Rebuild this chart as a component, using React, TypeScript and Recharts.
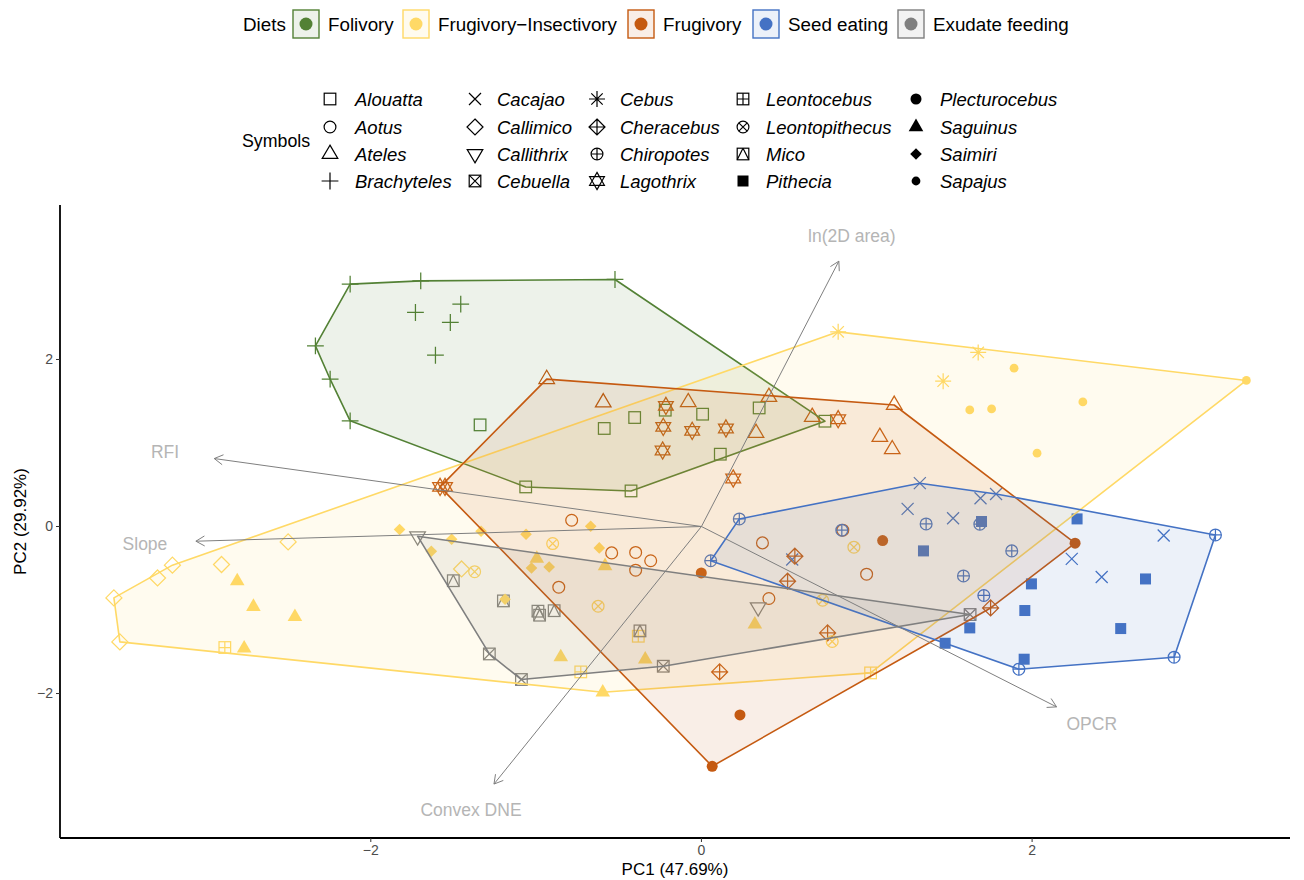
import React from 'react';
import { ScatterChart, Scatter, XAxis, YAxis } from 'recharts';

type Pt = [number, number];

// ---------- categories ----------
const DIETS = ['Folivory', 'Frugivory\u2212Insectivory', 'Frugivory', 'Seed eating', 'Exudate feeding'];
const DIET_COLORS = ['#538135', '#FFD966', '#C55A11', '#4472C4', '#7F7F7F'];

// ---------- PC scores per genus (PC1, PC2) ----------
const alouatta: Pt[] = [[-1.339, 1.217], [-1.063, 0.474], [-0.426, 0.426], [-0.588, 1.174], [-0.404, 1.305], [-0.219, 1.393], [0.007, 1.345], [0.349, 1.42], [0.114, 0.866], [0.747, 1.261]];
const aotus: Pt[] = [[-0.785, 0.075], [-0.543, -0.316], [-0.398, -0.311], [-0.307, -0.41], [-0.398, -0.523], [-0.863, -0.727], [0.369, -0.196], [0.408, -0.862], [0.999, -0.571], [0.855, -0.044]];
const ateles: Pt[] = [[-0.936, 1.765], [-0.594, 1.485], [-0.08, 1.487], [0.408, 1.55], [0.33, 1.119], [0.67, 1.311], [1.166, 1.455], [1.079, 1.071], [1.154, 0.924]];
const brachyteles: Pt[] = [[-2.125, 2.902], [-1.698, 2.941], [-0.523, 2.958], [-2.335, 2.163], [-2.246, 1.764], [-2.125, 1.265], [-1.73, 2.563], [-1.456, 2.662], [-1.519, 2.443], [-1.609, 2.051]];
const cacajao: Pt[] = [[1.321, 0.519], [1.247, 0.211], [1.522, 0.099], [1.688, 0.339], [1.782, 0.39], [2.796, -0.108], [2.24, -0.388], [2.421, -0.604], [0.549, -0.395]];
const callimico: Pt[] = [[-2.5, -0.184], [-2.903, -0.455], [-3.2, -0.463], [-3.29, -0.616], [-3.554, -0.855], [-3.518, -1.382], [-1.451, -0.508]];
const callithrix: Pt[] = [[-1.717, -0.116], [0.343, -0.966]];
const cebuella: Pt[] = [[-1.283, -1.526], [-1.089, -1.832], [-0.231, -1.673], [1.625, -1.054]];
const cebus: Pt[] = [[0.827, 2.331], [1.674, 2.084], [1.462, 1.74]];
const cheracebus: Pt[] = [[0.565, -0.356], [0.521, -0.655], [0.763, -1.274], [0.11, -1.741], [1.749, -0.975]];
const chiropotes: Pt[] = [[0.229, 0.091], [0.056, -0.41], [0.849, -0.044], [1.359, 0.031], [1.684, 0.028], [1.877, -0.292], [1.585, -0.592], [1.708, -0.826], [1.92, -1.709], [2.859, -1.565], [3.109, -0.101]];
const lagothrix: Pt[] = [[-0.215, 1.444], [-0.231, 1.193], [-0.056, 1.145], [0.148, 1.174], [-0.235, 0.91], [0.192, 0.575], [0.827, 1.285], [-1.581, 0.474], [-1.551, 0.474]];
const leontocebus: Pt[] = [[-2.883, -1.449], [-0.73, -1.741], [-0.382, -1.314], [1.023, -1.753]];
const leontopithecus: Pt[] = [[-0.9, -0.204], [-1.372, -0.541], [-0.625, -0.954], [0.733, -0.883], [0.791, -1.377], [0.922, -0.248]];
const mico: Pt[] = [[-1.501, -0.649], [-1.198, -0.891], [-0.989, -1.014], [-0.979, -1.062], [-0.891, -1.008], [-0.372, -1.25]];
const pithecia: Pt[] = [[1.694, 0.06], [1.343, -0.292], [2.272, 0.091], [1.996, -0.687], [1.956, -1.006], [1.623, -1.214], [1.474, -1.398], [1.952, -1.589], [2.536, -1.222], [2.686, -0.628]];
const plecturocebus: Pt[] = [[2.26, -0.2], [1.096, -0.168], [-0.001, -0.556], [0.233, -2.256], [0.065, -2.871]];
const saguinus: Pt[] = [[-2.808, -0.653], [-2.71, -0.961], [-2.459, -1.081], [-2.766, -1.459], [-0.996, -0.384], [-0.583, -0.473], [-0.851, -1.563], [-0.34, -1.591], [-0.597, -1.985], [0.323, -1.172]];
const saimiri: Pt[] = [[-1.826, -0.035], [-1.511, -0.152], [-1.634, -0.296], [-1.333, -0.056], [-1.061, -0.092], [-0.67, 0.004], [-0.618, -0.256], [-1.028, -0.496], [-0.921, -0.484], [-1.188, -0.871]];
const sapajus: Pt[] = [[1.891, 1.896], [3.296, 1.749], [1.623, 1.396], [1.755, 1.408], [2.307, 1.492], [2.03, 0.878]];

// genus name, diet index, symbol, scores
const GENERA: { name: string; diet: number; shape: string; pts: Pt[] }[] = [
  { name: 'Alouatta', diet: 0, shape: 'sq', pts: alouatta },
  { name: 'Aotus', diet: 2, shape: 'ci', pts: aotus },
  { name: 'Ateles', diet: 2, shape: 'tri', pts: ateles },
  { name: 'Brachyteles', diet: 0, shape: 'plus', pts: brachyteles },
  { name: 'Cacajao', diet: 3, shape: 'x', pts: cacajao },
  { name: 'Callimico', diet: 1, shape: 'dia', pts: callimico },
  { name: 'Callithrix', diet: 4, shape: 'itri', pts: callithrix },
  { name: 'Cebuella', diet: 4, shape: 'sqx', pts: cebuella },
  { name: 'Cebus', diet: 1, shape: 'ast', pts: cebus },
  { name: 'Cheracebus', diet: 2, shape: 'diaplus', pts: cheracebus },
  { name: 'Chiropotes', diet: 3, shape: 'ciplus', pts: chiropotes },
  { name: 'Lagothrix', diet: 2, shape: 'hex', pts: lagothrix },
  { name: 'Leontocebus', diet: 1, shape: 'sqplus', pts: leontocebus },
  { name: 'Leontopithecus', diet: 1, shape: 'cix', pts: leontopithecus },
  { name: 'Mico', diet: 4, shape: 'sqtri', pts: mico },
  { name: 'Pithecia', diet: 3, shape: 'fsq', pts: pithecia },
  { name: 'Plecturocebus', diet: 2, shape: 'fci', pts: plecturocebus },
  { name: 'Saguinus', diet: 1, shape: 'ftri', pts: saguinus },
  { name: 'Saimiri', diet: 1, shape: 'fdia', pts: saimiri },
  { name: 'Sapajus', diet: 1, shape: 'dot', pts: sapajus },
];

// ---------- loadings (arrow ends) and label positions ----------
const LOAD_NAMES = ['RFI', 'Slope', 'ln(2D area)', 'Convex DNE', 'OPCR'];
const LOAD_ENDS: Pt[] = [[-2.947, 0.814], [-3.058, -0.176], [0.831, 3.177], [-1.255, -3.084], [2.148, -2.16]];
const LOAD_LABELS: Pt[] = [[-3.245, 0.893], [-3.366, -0.204], [0.91, 3.477], [-1.394, -3.395], [2.361, -2.365]];

const X_TICKS = [-2, 0, 2];
const Y_TICKS = [-2, 0, 2];

// ---------- helpers ----------
const FONT = '"Liberation Sans", Arial, Helvetica, sans-serif';

function convexHull(points: Pt[]): Pt[] {
  const p = [...points].sort((a, b) => a[0] - b[0] || a[1] - b[1]);
  const cross = (o: Pt, a: Pt, b: Pt) => (a[0] - o[0]) * (b[1] - o[1]) - (a[1] - o[1]) * (b[0] - o[0]);
  const lower: Pt[] = [];
  for (const q of p) {
    while (lower.length >= 2 && cross(lower[lower.length - 2], lower[lower.length - 1], q) <= 0) lower.pop();
    lower.push(q);
  }
  const upper: Pt[] = [];
  for (let i = p.length - 1; i >= 0; i--) {
    const q = p[i];
    while (upper.length >= 2 && cross(upper[upper.length - 2], upper[upper.length - 1], q) <= 0) upper.pop();
    upper.push(q);
  }
  upper.pop();
  lower.pop();
  return lower.concat(upper);
}

function Sym({ shape, cx, cy, color, sw = 1.25 }: { shape: string; cx: number; cy: number; color: string; sw?: number }) {
  const o = { fill: 'none', stroke: color, strokeWidth: sw };
  const sq = (h: number) => <rect x={cx - h} y={cy - h} width={2 * h} height={2 * h} {...o} />;
  switch (shape) {
    case 'sq':
      return sq(5.8);
    case 'ci':
      return <circle cx={cx} cy={cy} r={5.9} {...o} />;
    case 'tri':
      return <path d={`M${cx},${cy - 8.9}L${cx + 7.8},${cy + 4.4}L${cx - 7.8},${cy + 4.4}Z`} {...o} />;
    case 'plus':
      return <path d={`M${cx - 8.4},${cy}H${cx + 8.4}M${cx},${cy - 8.4}V${cy + 8.4}`} {...o} />;
    case 'x':
      return <path d={`M${cx - 6},${cy - 6}L${cx + 6},${cy + 6}M${cx - 6},${cy + 6}L${cx + 6},${cy - 6}`} {...o} />;
    case 'dia':
      return <path d={`M${cx},${cy - 8}L${cx + 8},${cy}L${cx},${cy + 8}L${cx - 8},${cy}Z`} {...o} />;
    case 'itri':
      return <path d={`M${cx},${cy + 8.9}L${cx + 7.8},${cy - 4.4}L${cx - 7.8},${cy - 4.4}Z`} {...o} />;
    case 'sqx':
      return (
        <g>
          {sq(5.8)}
          <path d={`M${cx - 5.8},${cy - 5.8}L${cx + 5.8},${cy + 5.8}M${cx - 5.8},${cy + 5.8}L${cx + 5.8},${cy - 5.8}`} {...o} />
        </g>
      );
    case 'ast':
      return (
        <path
          d={`M${cx - 8},${cy}H${cx + 8}M${cx},${cy - 8}V${cy + 8}M${cx - 5.7},${cy - 5.7}L${cx + 5.7},${cy + 5.7}M${cx - 5.7},${cy + 5.7}L${cx + 5.7},${cy - 5.7}`}
          {...o}
        />
      );
    case 'diaplus':
      return (
        <path
          d={`M${cx},${cy - 8}L${cx + 8},${cy}L${cx},${cy + 8}L${cx - 8},${cy}ZM${cx - 8},${cy}H${cx + 8}M${cx},${cy - 8}V${cy + 8}`}
          {...o}
        />
      );
    case 'ciplus':
      return (
        <g>
          <circle cx={cx} cy={cy} r={5.9} {...o} />
          <path d={`M${cx - 5.9},${cy}H${cx + 5.9}M${cx},${cy - 5.9}V${cy + 5.9}`} {...o} />
        </g>
      );
    case 'hex':
      return (
        <path
          d={`M${cx},${cy - 8.6}L${cx + 7.4},${cy + 4.3}L${cx - 7.4},${cy + 4.3}ZM${cx},${cy + 8.6}L${cx + 7.4},${cy - 4.3}L${cx - 7.4},${cy - 4.3}Z`}
          {...o}
        />
      );
    case 'sqplus':
      return (
        <g>
          {sq(5.8)}
          <path d={`M${cx - 5.8},${cy}H${cx + 5.8}M${cx},${cy - 5.8}V${cy + 5.8}`} {...o} />
        </g>
      );
    case 'cix':
      return (
        <g>
          <circle cx={cx} cy={cy} r={5.9} {...o} />
          <path d={`M${cx - 4.2},${cy - 4.2}L${cx + 4.2},${cy + 4.2}M${cx - 4.2},${cy + 4.2}L${cx + 4.2},${cy - 4.2}`} {...o} />
        </g>
      );
    case 'sqtri':
      return (
        <g>
          {sq(5.8)}
          <path d={`M${cx},${cy - 5.8}L${cx + 5.8},${cy + 5.8}M${cx},${cy - 5.8}L${cx - 5.8},${cy + 5.8}`} {...o} />
        </g>
      );
    case 'fsq':
      return <rect x={cx - 5.5} y={cy - 5.5} width={11} height={11} fill={color} />;
    case 'fci':
      return <circle cx={cx} cy={cy} r={5.5} fill={color} />;
    case 'ftri':
      return <path d={`M${cx},${cy - 8.4}L${cx + 7.3},${cy + 4.2}L${cx - 7.3},${cy + 4.2}Z`} fill={color} />;
    case 'fdia':
      return <path d={`M${cx},${cy - 5.8}L${cx + 5.8},${cy}L${cx},${cy + 5.8}L${cx - 5.8},${cy}Z`} fill={color} />;
    case 'dot':
      return <circle cx={cx} cy={cy} r={4.4} fill={color} />;
    default:
      return <g />;
  }
}

const emptyShape = () => <g />;

const hullLine = (color: string) => (props: any) => {
  const pts: { x: number; y: number }[] = props.points || [];
  if (!pts.length) return <g />;
  const d = pts.map((p, i) => `${i ? 'L' : 'M'}${p.x},${p.y}`).join('') + 'Z';
  return <path d={d} fill={color} fillOpacity={0.1} stroke={color} strokeWidth={1.6} strokeLinejoin="round" />;
};

const arrowLine = (props: any) => {
  const pts: { x: number; y: number }[] = props.points || [];
  if (pts.length < 2) return <g />;
  const [a, b] = pts;
  const ang = Math.atan2(b.y - a.y, b.x - a.x);
  const L = 10;
  const w = Math.PI / 6;
  const p1 = `${b.x - L * Math.cos(ang - w)},${b.y - L * Math.sin(ang - w)}`;
  const p2 = `${b.x - L * Math.cos(ang + w)},${b.y - L * Math.sin(ang + w)}`;
  return (
    <g>
      <line x1={a.x} y1={a.y} x2={b.x} y2={b.y} stroke="#7f7f7f" strokeWidth={1} />
      <polyline points={`${p1} ${b.x},${b.y} ${p2}`} fill="none" stroke="#7f7f7f" strokeWidth={1} />
    </g>
  );
};

const fmt = (v: number) => (v < 0 ? '\u2212' + Math.abs(v) : String(v));

// ---------- legend layout ----------
const DIET_BOX_X = [293, 403, 628, 753, 898];
const DIET_TEXT_X = [328, 438, 663, 788, 933];
const SYM_COL_X = [330, 475, 597, 743, 916];
const SYM_TEXT_X = [355, 497, 620, 766, 940];
const SYM_ROW_Y = [99, 127, 154, 181];
const LEG_FS = 18.8;

function Legends() {
  return (
    <svg width={1304} height={200} style={{ position: 'absolute', left: 0, top: 0, pointerEvents: 'none', fontFamily: FONT }}>
      <text x={243} y={31} fontSize={LEG_FS} fill="#000">Diets</text>
      {DIETS.map((d, i) => (
        <g key={d}>
          <rect x={DIET_BOX_X[i]} y={10} width={26} height={28} fill={DIET_COLORS[i]} fillOpacity={0.1} stroke={DIET_COLORS[i]} strokeWidth={1.4} />
          <circle cx={DIET_BOX_X[i] + 13} cy={24} r={6.5} fill={DIET_COLORS[i]} />
          <text x={DIET_TEXT_X[i]} y={31} fontSize={LEG_FS} fill="#000">{d}</text>
        </g>
      ))}
      <text x={242} y={147} fontSize={LEG_FS - 1} fill="#000">Symbols</text>
      {GENERA.map((g, i) => {
        const col = Math.floor(i / 4);
        const row = i % 4;
        return (
          <g key={g.name}>
            <Sym shape={g.shape} cx={SYM_COL_X[col]} cy={SYM_ROW_Y[row]} color="#000" sw={1.2} />
            <text x={SYM_TEXT_X[col]} y={SYM_ROW_Y[row] + 7} fontSize={LEG_FS - 0.3} fontStyle="italic" fill="#000">{g.name}</text>
          </g>
        );
      })}
    </svg>
  );
}

export default function App() {
  const hulls = DIETS.map((_, di) => convexHull(GENERA.filter((g) => g.diet === di).flatMap((g) => g.pts)));
  return (
    <div style={{ position: 'relative', width: 1304, height: 880, fontFamily: FONT, background: '#fff' }}>
      <style>{'body{margin:0;overflow:hidden;}'}</style>
      <ScatterChart width={1304} height={880} margin={{ top: 205, right: 14, bottom: 0, left: 0 }}>
        <XAxis
          type="number"
          dataKey="x"
          domain={[-3.88, 3.56]}
          allowDataOverflow
          ticks={X_TICKS}
          tickFormatter={fmt}
          height={42}
          tickSize={4}
          tickMargin={3}
          axisLine={{ stroke: '#000', strokeWidth: 1.8 }}
          tickLine={{ stroke: '#333', strokeWidth: 1 }}
          tick={{ fill: '#4d4d4d', fontSize: 14 }}
          label={{ value: 'PC1 (47.69%)', position: 'insideBottom', offset: 5, fill: '#000', fontSize: 17 }}
        />
        <YAxis
          type="number"
          dataKey="y"
          domain={[-3.73, 3.85]}
          allowDataOverflow
          ticks={Y_TICKS}
          tickFormatter={fmt}
          width={60}
          tickSize={4}
          tickMargin={3}
          axisLine={{ stroke: '#000', strokeWidth: 1.8 }}
          tickLine={{ stroke: '#333', strokeWidth: 1 }}
          tick={{ fill: '#4d4d4d', fontSize: 14 }}
          label={{ value: 'PC2 (29.92%)', angle: -90, position: 'insideLeft', offset: 20, fill: '#000', fontSize: 17, style: { textAnchor: 'middle' } }}
        />
        {GENERA.map((g) => (
          <Scatter
            key={g.name}
            name={g.name}
            data={g.pts.map(([x, y]) => ({ x, y }))}
            isAnimationActive={false}
            shape={(p: any) => <Sym shape={g.shape} cx={p.cx} cy={p.cy} color={DIET_COLORS[g.diet]} />}
          />
        ))}
        {hulls.map((h, di) => (
          <Scatter
            key={'hull-' + di}
            name={'hull-' + DIETS[di]}
            data={h.map(([x, y]) => ({ x, y }))}
            isAnimationActive={false}
            line={hullLine(DIET_COLORS[di])}
            lineType="joint"
            shape={emptyShape}
          />
        ))}
        {LOAD_ENDS.map(([x, y], i) => (
          <Scatter
            key={'arrow-' + i}
            name={'arrow-' + LOAD_NAMES[i]}
            data={[{ x: 0, y: 0 }, { x, y }]}
            isAnimationActive={false}
            line={arrowLine}
            lineType="joint"
            shape={emptyShape}
          />
        ))}
        <Scatter
          name="loading-labels"
          data={LOAD_LABELS.map(([x, y], i) => ({ x, y, name: LOAD_NAMES[i] }))}
          isAnimationActive={false}
          shape={(p: any) => (
            <text x={p.cx} y={p.cy} textAnchor="middle" dominantBaseline="central" fill="#b5b5b5" fontSize={17.5}>
              {p.payload?.name ?? p.name}
            </text>
          )}
        />
      </ScatterChart>
      <Legends />
    </div>
  );
}
